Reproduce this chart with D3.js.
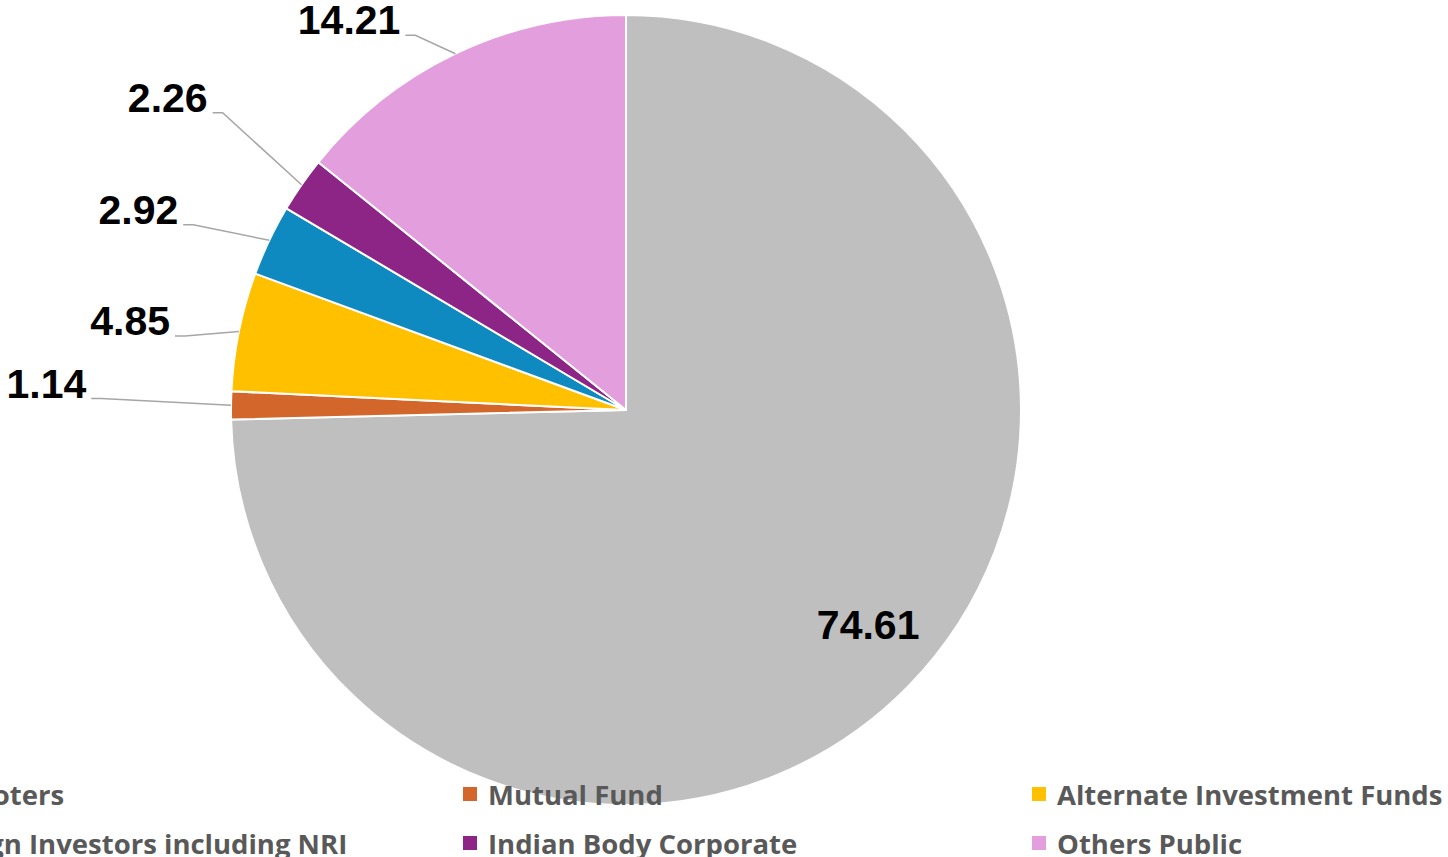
<!DOCTYPE html>
<html>
<head>
<meta charset="utf-8">
<script src="https://cdn.jsdelivr.net/npm/d3@7/dist/d3.min.js"></script>
<style>
  html, body { margin: 0; padding: 0; background: #fff; overflow: hidden; }
  svg { display: block; }
</style>
</head>
<body>
<svg id="chart" width="1448" height="857"></svg>
<script>
// Shareholding pattern (%)
const categories = [
  "Promoters",
  "Mutual Fund",
  "Alternate Investment Funds",
  "Foreign Investors including NRI",
  "Indian Body Corporate",
  "Others Public"
];
const shares = [74.61, 1.14, 4.85, 2.92, 2.26, 14.21];
const sliceColors = ["#BFBFBF", "#D3672B", "#FFC000", "#0E8AC0", "#8C2585", "#E39FDD"];

// Layout
const W = 1448, H = 857;
const cx = 626, cy = 410, R = 395;

// Label placement relative to each slice: angular shift (deg) from the slice
// mid-angle and distance as a multiple of the radius.
const labelPlacement = [
  { inside: true, dAngle: -2.7, k: 0.82 },
  { dAngle: 0.55, k: 1.354 },
  { dAngle: -2.15, k: 1.157 },
  { dAngle: -2.75, k: 1.215 },
  { dAngle: 0.95, k: 1.289 },
  { dAngle: -4.9, k: 1.101 }
];

const svg = d3.select("#chart");
const data = categories.map((c, i) => ({ name: c, value: shares[i], color: sliceColors[i], place: labelPlacement[i] }));

const pie = d3.pie().value(d => d.value).sort(null).startAngle(0).endAngle(2 * Math.PI);
const arcs = pie(data);
const arc = d3.arc().innerRadius(0).outerRadius(R);

const g = svg.append("g").attr("transform", `translate(${cx},${cy})`);

g.selectAll("path.slice")
  .data(arcs)
  .join("path")
  .attr("class", "slice")
  .attr("d", arc)
  .attr("fill", d => d.data.color)
  .attr("stroke", "#fff")
  .attr("stroke-width", 2)
  .attr("stroke-linejoin", "round");

const polar = (ang, rad) => [rad * Math.sin(ang), -rad * Math.cos(ang)];
const deg = Math.PI / 180;
const fmt = d3.format(".2f");
const labelFont = "'Liberation Sans', Arial, sans-serif";
const labelSize = 41;

// Outside labels with leader lines
arcs.filter(d => !d.data.place.inside).forEach(d => {
  const mid = (d.startAngle + d.endAngle) / 2;
  const p0 = polar(mid + d.data.place.dAngle * deg, R * d.data.place.k);
  const p1 = [p0[0] + 10, p0[1]];
  const p2 = polar(mid, R);
  g.append("path")
    .attr("d", d3.line()([p0, p1, p2]))
    .attr("fill", "none")
    .attr("stroke", "#A6A6A6")
    .attr("stroke-width", 1.5);
  g.append("text")
    .attr("x", p0[0] - 5)
    .attr("y", p0[1] - 1)
    .attr("text-anchor", "end")
    .attr("font-family", labelFont)
    .attr("font-weight", 700)
    .attr("font-size", labelSize)
    .attr("fill", "#000")
    .text(fmt(d.data.value));
});

// Inside label
arcs.filter(d => d.data.place.inside).forEach(d => {
  const mid = (d.startAngle + d.endAngle) / 2;
  const p = polar(mid + d.data.place.dAngle * deg, R * d.data.place.k);
  g.append("text")
    .attr("x", p[0])
    .attr("y", p[1])
    .attr("text-anchor", "middle")
    .attr("dominant-baseline", "central")
    .attr("font-family", labelFont)
    .attr("font-weight", 700)
    .attr("font-size", labelSize)
    .attr("fill", "#000")
    .text(fmt(d.data.value));
});

// Legend: three columns, two rows
const colX = d3.scalePoint().domain([0, 1, 2]).range([-106, 1032]);
const rowY = d3.scalePoint().domain([0, 1]).range([794, 843]);
const legend = svg.append("g");
data.forEach((d, i) => {
  const c = i % 3, r = Math.floor(i / 3);
  const item = legend.append("g").attr("transform", `translate(${colX(c)},${rowY(r)})`);
  item.append("rect")
    .attr("x", 0).attr("y", -7)
    .attr("width", 14).attr("height", 14)
    .attr("fill", d.color);
  item.append("text")
    .attr("x", 25)
    .attr("y", 0)
    .attr("dominant-baseline", "central")
    .attr("font-family", "'Open Sans', 'Noto Sans', sans-serif")
    .attr("font-weight", 700)
    .attr("font-size", 27.5)
    .attr("fill", "#595959")
    .text(d.name);
});
</script>
</body>
</html>
